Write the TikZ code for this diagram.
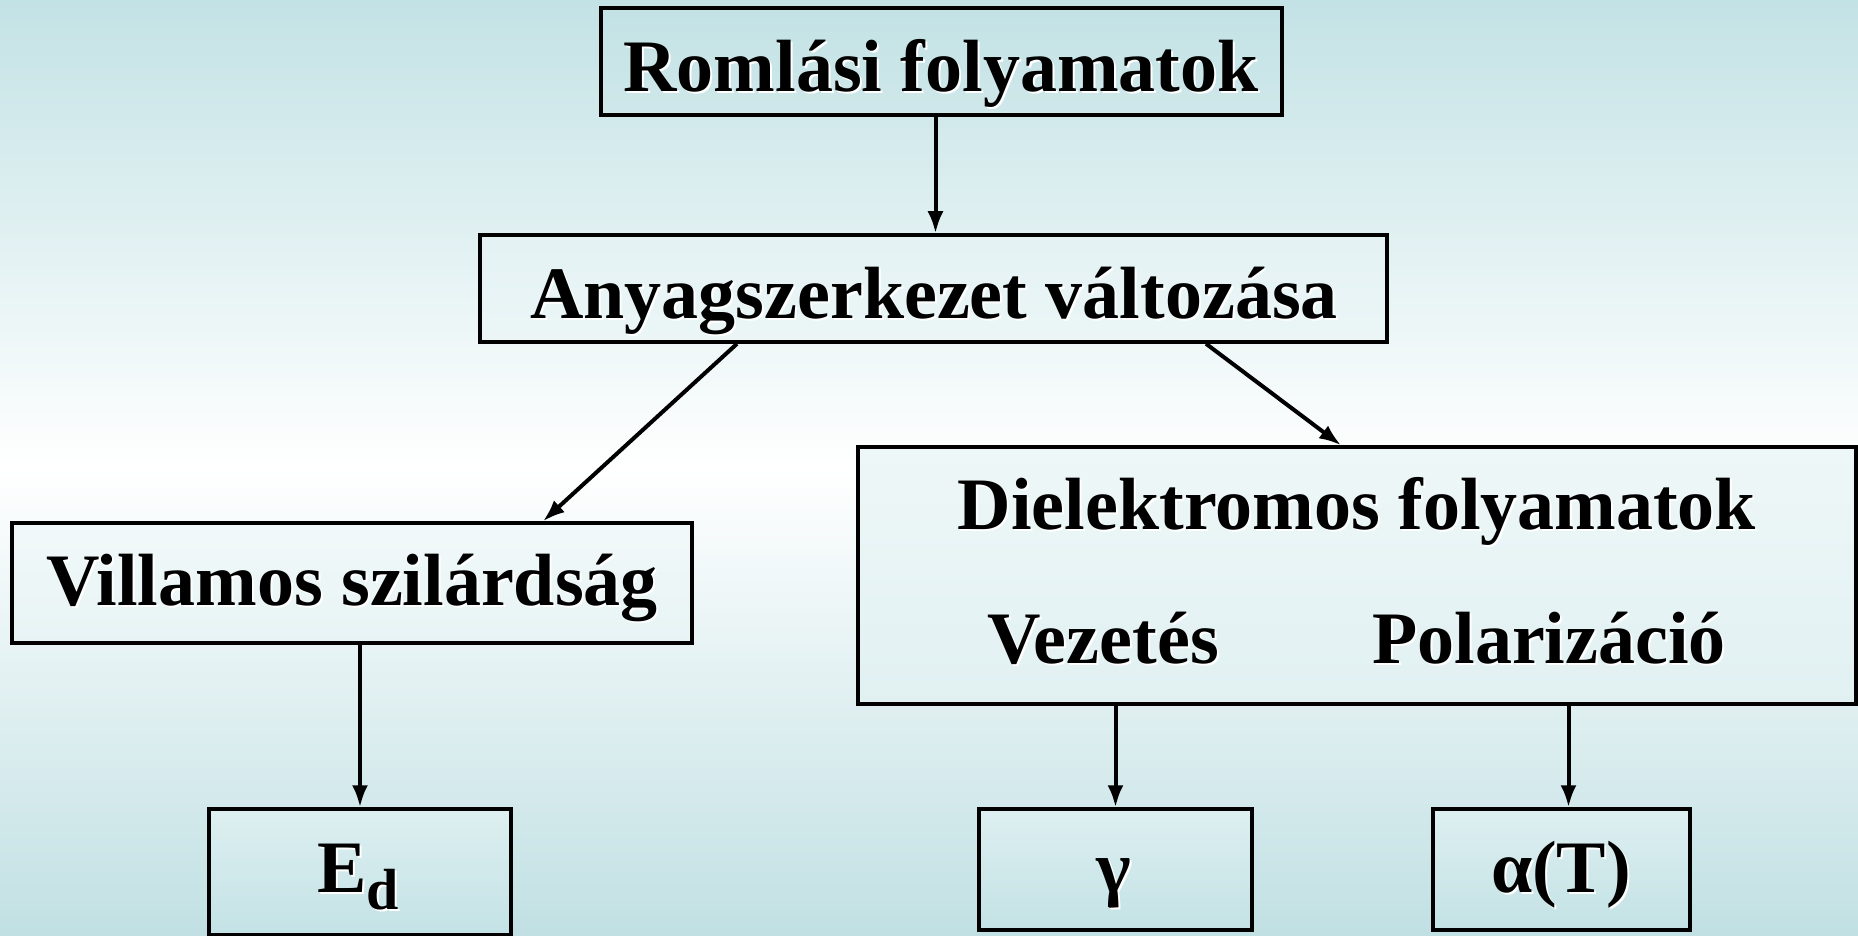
\documentclass[tikz,border=0pt]{standalone}
\usepackage{fontspec}
\setmainfont{Liberation Serif}
\usetikzlibrary{arrows.meta}

\definecolor{bgtop}{HTML}{C3E2E5}
\definecolor{bgbot}{HTML}{C1E0E3}
\newcommand{\shtext}[1]{\makebox[0pt][l]{\hspace{2pt}\raisebox{-2pt}{\color{white}#1}}#1}

\tikzset{every picture/.style={line width=0.75pt}}
\tikzset{
  boxnode/.style={draw, line width=3.5pt, inner sep=0pt},
  lbl/.style={anchor=base, inner sep=0pt, font=\fontsize{74}{80}\selectfont\bfseries},
  arr/.style={line width=4pt, -{Latex[length=22pt,width=16pt]}}
}

\begin{document}
\begin{tikzpicture}[x=1pt,y=1pt,yscale=-1,xscale=1]
\useasboundingbox (0,0) rectangle (1858,936);
\node [inner sep=0pt, outer sep=0pt, minimum width=1858pt, minimum height=936pt, top color=bgtop, bottom color=bgbot, middle color=white] (bg) at (929,468) {};

\node [boxnode, top color=bgtop, bottom color=bgtop!80!white, minimum width=681pt, minimum height=107pt] (romlasi) at (941.5,61.5) {};
\node [boxnode, top color=bgtop!45!white, bottom color=bgtop!33!white, minimum width=907pt, minimum height=107pt] (anyag) at (933.5,288.5) {};
\node [boxnode, top color=bgtop!22!white, bottom color=bgtop!40!white, minimum width=680pt, minimum height=120pt] (villamos) at (352,583) {};
\node [boxnode, top color=bgtop!28!white, bottom color=bgtop!50!white, minimum width=998pt, minimum height=257pt] (diel) at (1357,575.5) {};
\node [boxnode, top color=bgtop!55!white, bottom color=bgtop, minimum width=302pt, minimum height=126pt] (ed) at (360,872) {};
\node [boxnode, top color=bgtop!55!white, bottom color=bgtop, minimum width=273pt, minimum height=121pt] (gamma) at (1115.5,869.5) {};
\node [boxnode, top color=bgtop!55!white, bottom color=bgtop, minimum width=257pt, minimum height=121pt] (alpha) at (1561.5,869.5) {};

\draw [arr] ([xshift=-6pt]romlasi.south) -- ([xshift=-6pt]romlasi.south |- anyag.north);
\draw [arr] ([xshift=-196.5pt]anyag.south) -- ([xshift=191pt]villamos.north);
\draw [arr] ([xshift=272.5pt]anyag.south) -- ([xshift=-16pt]diel.north);
\draw [arr] (ed.north |- villamos.south) -- (ed.north);
\draw [arr] (gamma.north |- diel.south) -- (gamma.north);
\draw [arr] ([xshift=7pt]alpha.north |- diel.south) -- ([xshift=7pt]alpha.north);

\node [lbl] (t-romlasi) at (941,92) {\shtext{Romlási folyamatok}};
\node [lbl] (t-anyag) at (934,318) {\shtext{Anyagszerkezet változása}};
\node [lbl] (t-villamos) at (352,605) {\shtext{Villamos szilárdság}};
\node [lbl] (t-diel) at (1357,529) {\shtext{Dielektromos folyamatok}};
\node [lbl] (t-vezetes) at (1103,663) {\shtext{Vezetés}};
\node [lbl] (t-polar) at (1549,663) {\shtext{Polarizáció}};
\node [lbl] (t-ed) at (358,892) {\shtext{E\raisebox{-17pt}{\fontsize{58}{60}\selectfont d}}};
\node [lbl] (t-gamma) at (1114,892) {\shtext{γ}};
\node [lbl] (t-alpha) at (1561,892) {\shtext{α(T)}};
\end{tikzpicture}
\end{document}
